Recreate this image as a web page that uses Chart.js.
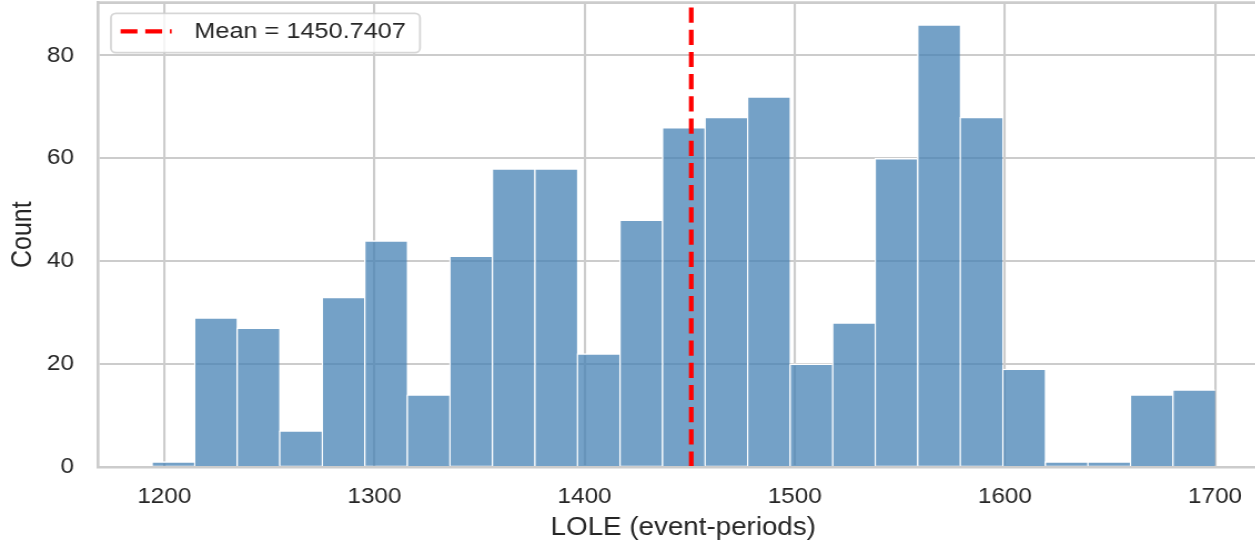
<!DOCTYPE html>
<html>
<head>
<meta charset="utf-8">
<title>LOLE histogram</title>
<script src="https://cdn.jsdelivr.net/npm/chart.js@4.4.1/dist/chart.umd.min.js"></script>
<style>
  html, body { margin: 0; padding: 0; background: #ffffff; overflow: hidden; }
  /* the figure is shown 11% wider than it is drawn */
  #hist { display: block; width: 1272.06px; height: 544px; }
</style>
</head>
<body>
<canvas id="hist" width="1146" height="544" style="width:1272.06px;height:544px"></canvas>
<script>
// Histogram bins: centre of each bin (event-periods) and the number of samples in it
const binCenters = [
  1204.12, 1224.36, 1244.60, 1264.84, 1285.08, 1305.32, 1325.56, 1345.80, 1366.04,
  1386.28, 1406.52, 1426.76, 1447.00, 1467.24, 1487.48, 1507.72, 1527.96, 1548.20,
  1568.44, 1588.68, 1608.92, 1629.16, 1649.40, 1669.64, 1689.88
];
const counts = [
  1, 29, 27, 7, 33, 44, 14, 41, 58,
  58, 22, 48, 66, 68, 72, 20, 28, 60,
  86, 68, 19, 1, 1, 14, 15
];

// Sample mean, drawn as a vertical reference line
const meanValue = 1450.7407;

// Axis ticks, ranges and titles
const xTicks = [1200, 1300, 1400, 1500, 1600, 1700];
const yTicks = [0, 20, 40, 60, 80];
const xRange = [1168.6, 1725.3];
const yRange = [0, 90.3];
const xTitle = 'LOLE (event-periods)';
const yTitle = 'Count';

const FONT = '"Liberation Sans", Arial, Helvetica, sans-serif';
const TEXT = '#262626';
const FRAME = '#cccccc';

// Top spine (the left and bottom ones are the axis borders)
const topSpine = {
  id: 'topSpine',
  afterDatasetsDraw(chart) {
    const { ctx, chartArea: a } = chart;
    ctx.save();
    ctx.strokeStyle = FRAME;
    ctx.lineWidth = 2.6;
    ctx.beginPath();
    ctx.moveTo(a.left, a.top);
    ctx.lineTo(a.right, a.top);
    ctx.stroke();
    ctx.restore();
  }
};

// Framed legend in the upper-left corner of the plot
const meanLegend = {
  id: 'meanLegend',
  afterDraw(chart) {
    const ds = chart.data.datasets.find(d => d.type === 'line');
    const { ctx, chartArea: a } = chart;
    const x0 = a.left + 11.4, y0 = a.top + 10.7, w = 278.4, h = 39.4, r = 4.5;
    ctx.save();
    ctx.beginPath();
    ctx.moveTo(x0 + r, y0);
    ctx.arcTo(x0 + w, y0, x0 + w, y0 + h, r);
    ctx.arcTo(x0 + w, y0 + h, x0, y0 + h, r);
    ctx.arcTo(x0, y0 + h, x0, y0, r);
    ctx.arcTo(x0, y0, x0 + w, y0, r);
    ctx.closePath();
    ctx.fillStyle = 'rgba(255,255,255,0.8)';
    ctx.fill();
    ctx.strokeStyle = 'rgba(204,204,204,0.8)';
    ctx.lineWidth = 1.8;
    ctx.stroke();

    const cy = y0 + 18;
    ctx.beginPath();
    ctx.setLineDash(ds.borderDash);
    ctx.strokeStyle = ds.borderColor;
    ctx.lineWidth = ds.borderWidth;
    ctx.moveTo(x0 + 8.7, cy);
    ctx.lineTo(x0 + 54.7, cy);
    ctx.stroke();
    ctx.setLineDash([]);

    ctx.font = '22.8px ' + FONT;
    ctx.fillStyle = TEXT;
    ctx.textAlign = 'left';
    ctx.textBaseline = 'middle';
    ctx.fillText(ds.label, x0 + 75, cy);
    ctx.restore();
  }
};

new Chart(document.getElementById('hist'), {
  type: 'bar',
  data: {
    datasets: [
      {
        type: 'line',
        label: 'Mean = ' + meanValue.toFixed(4),
        data: [{ x: meanValue, y: yRange[0] }, { x: meanValue, y: yRange[1] }],
        borderColor: '#ff0000',
        borderWidth: 4.2,
        borderDash: [15.2, 7],
        borderCapStyle: 'butt',
        pointRadius: 0,
        fill: false,
        order: 0
      },
      {
        type: 'bar',
        label: 'Count',
        data: binCenters.map((x, i) => ({ x: x, y: counts[i] })),
        backgroundColor: 'rgba(70,130,180,0.75)',
        borderColor: '#ffffff',
        borderWidth: { left: 1.35, top: 1.4, right: 0, bottom: 0 },
        borderSkipped: false,
        barPercentage: 1,
        categoryPercentage: 1,
        order: 1
      }
    ]
  },
  options: {
    responsive: false,
    animation: false,
    devicePixelRatio: 1,
    layout: { padding: { top: 2.6, left: 0, right: 3.4, bottom: 0 } },
    plugins: {
      legend: { display: false },
      tooltip: { enabled: false }
    },
    scales: {
      x: {
        type: 'linear',
        min: xRange[0],
        max: xRange[1],
        offset: false,
        grid: { color: FRAME, lineWidth: 2.1, drawTicks: false, offset: false },
        border: { display: true, color: FRAME, width: 2.4, z: 1 },
        afterBuildTicks: s => { s.ticks = xTicks.map(v => ({ value: v })); },
        afterFit: s => { s.height = 77.3; s.paddingLeft = 0; s.paddingRight = 0; },
        ticks: {
          padding: 16.9,
          autoSkip: false,
          maxRotation: 0,
          color: TEXT,
          font: { family: FONT, size: 21.9, lineHeight: 1.2 },
          callback: v => String(v)
        },
        title: {
          display: true,
          text: xTitle,
          color: TEXT,
          font: { family: FONT, size: 25, lineHeight: 1.2 },
          padding: { top: 0, bottom: 1.3 }
        }
      },
      y: {
        type: 'linear',
        min: yRange[0],
        max: yRange[1],
        grid: { color: FRAME, lineWidth: 2.1, drawTicks: false },
        border: { display: true, color: FRAME, width: 2.6, z: 1 },
        afterBuildTicks: s => { s.ticks = yTicks.map(v => ({ value: v })); },
        afterFit: s => { s.width = 88.56; s.paddingTop = 0; s.paddingBottom = 0; },
        ticks: {
          padding: 21.9,
          color: TEXT,
          font: { family: FONT, size: 21.9, lineHeight: 1.2 },
          callback: v => String(v)
        },
        title: {
          display: true,
          text: yTitle,
          color: TEXT,
          font: { family: FONT, size: 25, lineHeight: 1.2 },
          padding: { top: 5.7, bottom: 0 }
        }
      }
    }
  },
  plugins: [topSpine, meanLegend]
});
</script>
</body>
</html>
